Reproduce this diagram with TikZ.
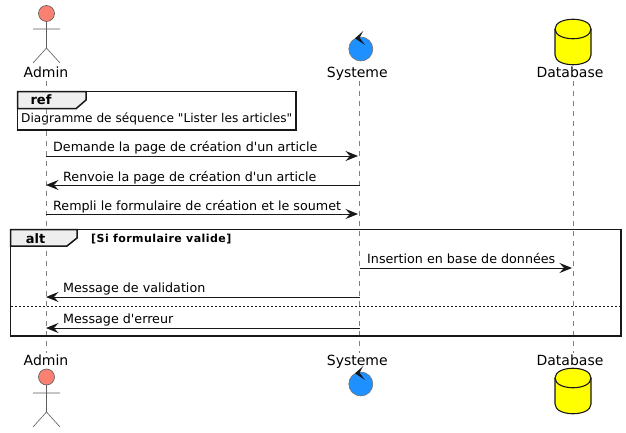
\documentclass[tikz,border=0pt]{standalone}
\usepackage{fontspec}
\newfontfamily\plainf{DejaVu Sans}
\usetikzlibrary{arrows.meta}
\definecolor{ink}{HTML}{181818}
\definecolor{salmonfill}{HTML}{FA8072}
\definecolor{bluefill}{HTML}{1E90FF}
\definecolor{tabfill}{HTML}{EEEEEE}
\definecolor{canfill}{HTML}{FFFF00}
\tikzset{
  part/.style={font=\plainf\fontsize{14}{16}\selectfont,inner sep=0pt,anchor=base,text=black},
  life/.style={draw=ink!55,line width=0.5pt,dash pattern=on 5pt off 5pt},
  msg/.style={draw=ink,line width=1pt,-{Stealth[length=12.5pt,width=10pt,inset=4.5pt,fill=ink]}},
  msglabel/.style={font=\plainf\fontsize{12.7}{15}\selectfont,inner sep=0pt,anchor=base west,text=black},
  reflabel/.style={font=\plainf\fontsize{12.15}{15}\selectfont,inner sep=0pt,anchor=base west,text=black},
  frameline/.style={draw=ink,line width=1.5pt},
  tabshape/.style={draw=ink,line width=1.5pt,fill=tabfill},
  tabtext/.style={font=\plainf\bfseries\fontsize{13}{15}\selectfont,inner sep=0pt,anchor=base,text=black},
  guard/.style={font=\plainf\bfseries\fontsize{11}{12}\addfontfeature{LetterSpace=4}\selectfont,inner sep=0pt,anchor=base west,text=black},
  stick/.style={draw=ink!70,line width=0.6pt},
  head/.style={draw=ink!70,line width=0.6pt,fill=salmonfill},
  ctrl/.style={draw=ink!60,line width=0.6pt,fill=bluefill},
  can/.style={draw=ink,line width=1.1pt,fill=canfill},
}
\begin{document}
\begin{tikzpicture}[x=1pt,y=-1pt]
\useasboundingbox (0,0) rectangle (626,433);
\fill[white] (0,0) rectangle (626,433);
% participant labels
\node[part] (adminT) at (46,78) {Admin};
\node[part] (sysT) at (357.3,78) {Systeme};
\node[part] (dbT) at (570,78) {Database};
\node[part] (adminB) at (46,365) {Admin};
\node[part] (sysB) at (357.3,365) {Systeme};
\node[part] (dbB) at (570,365) {Database};
% lifelines
\coordinate (a1) at (46,81); \coordinate (a2) at (46,353);
\coordinate (s1) at (359.5,81); \coordinate (s2) at (359.5,353);
\coordinate (d1) at (573.5,81); \coordinate (d2) at (573.5,353);
\draw[life] (a1) -- (a2);
\draw[life] (s1) -- (s2);
\draw[life] (d1) -- (d2);
% ref frame
\draw[frameline,fill=white] (17.5,91.7) rectangle (296,130);
\draw[tabshape] (17.5,91.7) -- (86,91.7) -- (86,100) -- (76,108.7) -- (17.5,108.7) -- cycle;
\node[tabtext] (reftab) at (41,105) {ref};
\node[reflabel] (refbody) at (21,123) {Diagramme de séquence "Lister les articles"};
\coordinate (r1) at (46,109.5); \coordinate (r2) at (46,129);
\draw[life] (r1) -- (r2);
% messages
\node[msglabel] (m1) at (53,151) {Demande la page de création d'un article};
\node[msglabel] (m2) at (63,181) {Renvoie la page de création d'un article};
\node[msglabel] (m3) at (53,210) {Rempli le formulaire de création et le soumet};
\coordinate (a156) at (46,156); \coordinate (s156) at (358,156);
\coordinate (a185) at (46,185); \coordinate (s185) at (359.5,185);
\coordinate (a214) at (46,214); \coordinate (s214) at (358,214);
\draw[msg] (a156) -- (s156);
\draw[msg] (s185) -- (a185);
\draw[msg] (a214) -- (s214);
% alt frame
\draw[frameline] (10.5,229.5) rectangle (621,336);
\draw[tabshape] (10.5,229.5) -- (77,229.5) -- (77,238) -- (67,246) -- (10.5,246) -- cycle;
\node[tabtext] (alttab) at (35.5,243) {alt};
\node[guard] (g) at (91,242) {[Si formulaire valide]};
\draw[draw=ink,line width=0.7pt,dash pattern=on 2pt off 2pt] (11,306) -- (621,306);
\node[msglabel] (m4) at (367,263) {Insertion en base de données};
\node[msglabel] (m5) at (63,292) {Message de validation};
\node[msglabel] (m6) at (63,323) {Message d'erreur};
\coordinate (s268) at (360,268); \coordinate (d268) at (572,268);
\coordinate (s297) at (359.5,297); \coordinate (a297) at (46,297);
\coordinate (s328) at (359.5,328); \coordinate (a328) at (46,328);
\draw[msg] (s268) -- (d268);
\draw[msg] (s297) -- (a297);
\draw[msg] (s328) -- (a328);
% actor icons
\draw[head] (46.5,13.5) circle (8);
\draw[stick] (46.5,21.5) -- (46.5,48) (33,29) -- (60,29) (33,63) -- (46.5,48) -- (60,63);
\draw[head] (46.5,377) circle (8);
\draw[stick] (46.5,385) -- (46.5,412) (33,393) -- (60,393) (33,427) -- (46.5,412) -- (60,427);
% control icons
\draw[ctrl] (360.8,49) circle (12);
\fill[ink] (355,38.3) -- (363.3,31) -- (359.5,37.7) -- (365,45) -- cycle;
\draw[ctrl] (360.8,384) circle (12);
\fill[ink] (355,373.3) -- (363.3,366) -- (359.5,372.7) -- (365,380) -- cycle;
% database icons
\draw[can] (555,29) .. controls (555,16) and (591,16) .. (591,29) -- (591,55) .. controls (591,68) and (555,68) .. (555,55) -- cycle;
\draw[can,fill=none] (555,29) .. controls (555,42) and (591,42) .. (591,29);
\draw[can] (555,378) .. controls (555,365) and (591,365) .. (591,378) -- (591,404) .. controls (591,417) and (555,417) .. (555,404) -- cycle;
\draw[can,fill=none] (555,378) .. controls (555,391) and (591,391) .. (591,378);
\end{tikzpicture}
\end{document}
